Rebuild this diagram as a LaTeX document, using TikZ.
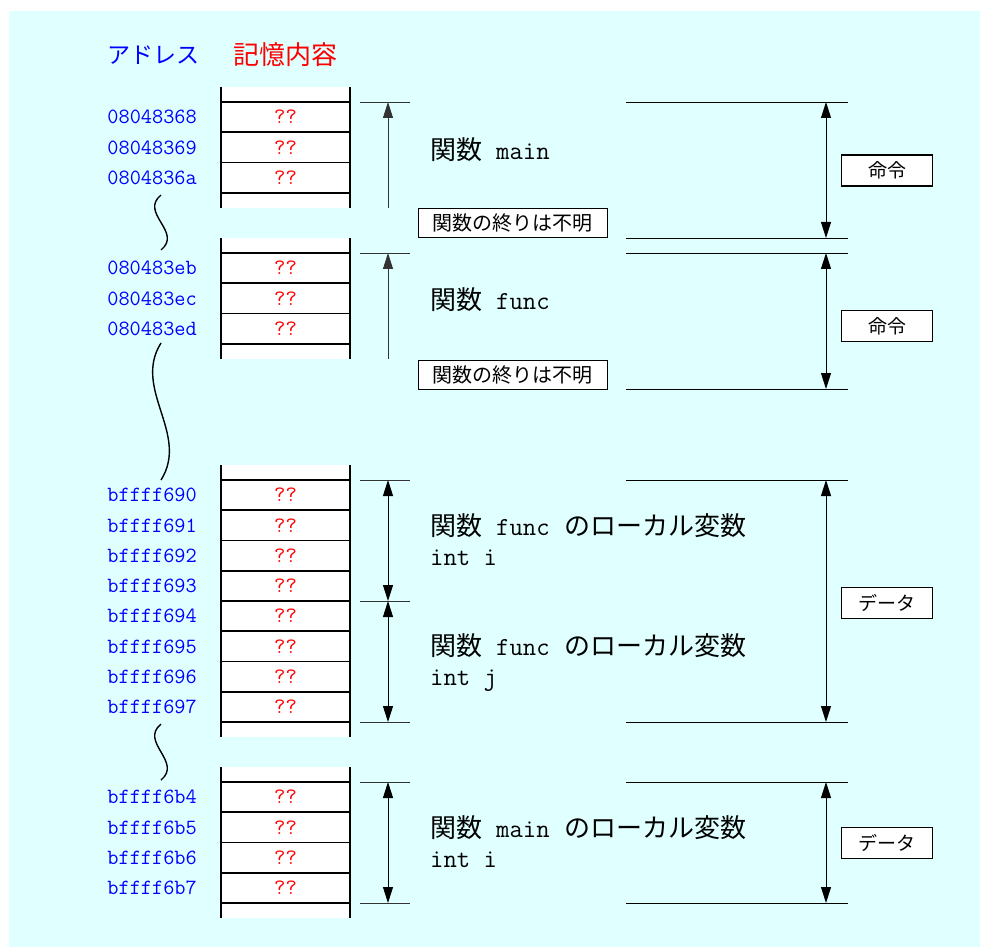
\documentclass[tikz,border=0pt]{standalone}
\usepackage{fontspec}
\newfontfamily\cjk{Noto Sans CJK JP}
\usetikzlibrary{arrows.meta}
\definecolor{bgcyan}{HTML}{E0FFFF}
\definecolor{addrblue}{HTML}{0000FF}
\definecolor{memred}{HTML}{FF0000}
\tikzset{
  cell/.style={draw, line width=1.7pt, fill=white, minimum width=129pt, minimum height=30.3pt,
    inner sep=0pt, text=memred, font=\fontsize{22}{22}\selectfont\ttfamily},
  addr/.style={anchor=east, inner sep=0pt, text=addrblue, font=\fontsize{21.7}{21.7}\selectfont\ttfamily},
  blockedge/.style={line width=1.7pt},
  tick/.style={line width=0.8pt, draw=black!80},
  guide/.style={line width=0.8pt, draw=black},
  arr/.style={line width=0.9pt, draw=black!80, -{Triangle[length=16pt,width=10pt]}},
  darr/.style={line width=0.9pt, draw=black, {Triangle[length=16pt,width=10pt]}-{Triangle[length=16pt,width=10pt]}},
  tag/.style={draw, line width=1.6pt, fill=white, minimum width=91pt, minimum height=31pt, inner sep=0pt,
    font=\fontsize{19}{19}\selectfont\cjk},
  endbox/.style={draw, line width=0.9pt, fill=white, minimum width=189pt, minimum height=29pt, inner sep=0pt,
    font=\fontsize{20}{20}\selectfont\cjk},
  desc/.style={anchor=west, inner sep=0pt, font=\fontsize{26}{26}\selectfont},
  wave/.style={line width=1.4pt},
}
\newcommand{\jp}[1]{{\cjk #1}}
\newcommand{\gapA}{\hspace{14pt}}
\newcommand{\gapB}{\hspace{15pt}}
\begin{document}
\begin{tikzpicture}[x=1pt,y=-1pt]
\useasboundingbox (0,0) rectangle (981,949);
\fill[white] (0,0) rectangle (981,949);
\fill[bgcyan] (9,11) rectangle (980,947);

% titles
\node[anchor=west, inner sep=0pt, text=addrblue, font=\fontsize{23}{23}\selectfont\cjk] (tA) at (107,55) {アドレス};
\node[anchor=west, inner sep=0pt, text=memred, font=\fontsize{26}{26}\selectfont\cjk] (tM) at (233,55) {記憶内容};

% block backgrounds and edges
\foreach \t/\b in {87/208, 238/359, 465/737, 767/918}{
  \fill[white] (221,\t) rectangle (350,\b);
  \draw[blockedge] (221,\t) -- (221,\b);
  \draw[blockedge] (350,\t) -- (350,\b);
}

% block 1
\foreach \i/\a in {0/08048368, 1/08048369, 2/0804836a}{
  \node[cell] (m\i) at (285.5,{117.15+30.3*\i}) {??};
  \node[addr] (am\i) at (197,{117.15+30.3*\i}) {\a};
}
% block 2
\foreach \i/\a in {0/080483eb, 1/080483ec, 2/080483ed}{
  \node[cell] (f\i) at (285.5,{268.15+30.3*\i}) {??};
  \node[addr] (af\i) at (197,{268.15+30.3*\i}) {\a};
}
% block 3
\foreach \i/\a in {0/bffff690, 1/bffff691, 2/bffff692, 3/bffff693, 4/bffff694, 5/bffff695, 6/bffff696, 7/bffff697}{
  \node[cell, minimum height=30.25pt] (s\i) at (285.5,{495.125+30.25*\i}) {??};
  \node[addr] (as\i) at (197,{495.125+30.25*\i}) {\a};
}
% block 4
\foreach \i/\a in {0/bffff6b4, 1/bffff6b5, 2/bffff6b6, 3/bffff6b7}{
  \node[cell] (t\i) at (285.5,{797.15+30.3*\i}) {??};
  \node[addr] (at\i) at (197,{797.15+30.3*\i}) {\a};
}

% wavy separators
\coordinate (w1a) at (161,195); \coordinate (w1b) at (161,250);
\coordinate (w2a) at (161,343); \coordinate (w2b) at (161,480);
\coordinate (w3a) at (161,724); \coordinate (w3b) at (161,780);
\draw[wave] (w1a) .. controls (139,213) and (183,232) .. (w1b);
\draw[wave] (w2a) .. controls (132,389) and (190,434) .. (w2b);
\draw[wave] (w3a) .. controls (139,742) and (183,762) .. (w3b);

% left ticks
\foreach \n/\y in {k1/102, k2/253, k3/480, k4/601, k5/722, k6/782, k7/903}{
  \coordinate (\n l) at (360,\y);
  \coordinate (\n r) at (410,\y);
  \coordinate (\n) at (388,\y);
  \draw[tick] (\n l) -- (\n r);
}
\coordinate (e1) at (388,208);
\coordinate (e2) at (388,359);
\draw[arr] (e1) -- (k1);
\draw[arr] (e2) -- (k2);
\draw[darr] (k3) -- (k4);
\draw[darr] (k4) -- (k5);
\draw[darr] (k6) -- (k7);

% right guides
\foreach \n/\y in {g1/102, g2/238, g3/253, g4/389, g5/480, g6/722, g7/782, g8/903}{
  \coordinate (\n l) at (626,\y);
  \coordinate (\n r) at (848,\y);
  \coordinate (\n) at (826,\y);
  \draw[guide] (\n l) -- (\n r);
}
\draw[darr] (g1) -- (g2);
\draw[darr] (g3) -- (g4);
\draw[darr] (g5) -- (g6);
\draw[darr] (g7) -- (g8);

% tags
\node[tag] (cmd1) at (887,170.5) {命令};
\node[tag] (cmd2) at (887,326) {命令};
\node[tag] (dat1) at (887,603) {データ};
\node[tag] (dat2) at (887,843) {データ};

% end-unknown boxes
\node[endbox] (u1) at (512.5,222.5) {関数の終りは不明};
\node[endbox] (u2) at (512.5,374.5) {関数の終りは不明};

% descriptions
\node[desc] (d1) at (430,150) {\jp{関数}\gapA\texttt{main}};
\node[desc] (d2) at (430,300) {\jp{関数}\gapA\texttt{func}};
\node[desc] (d3) at (430,526) {\jp{関数}\gapA\texttt{func}\gapB\jp{のローカル変数}};
\node[desc] (d3b) at (430,558) {\texttt{int i}};
\node[desc] (d4) at (430,646) {\jp{関数}\gapA\texttt{func}\gapB\jp{のローカル変数}};
\node[desc] (d4b) at (430,681) {\texttt{int j}};
\node[desc] (d5) at (430,828) {\jp{関数}\gapA\texttt{main}\gapB\jp{のローカル変数}};
\node[desc] (d5b) at (430,860) {\texttt{int i}};
\end{tikzpicture}
\end{document}
